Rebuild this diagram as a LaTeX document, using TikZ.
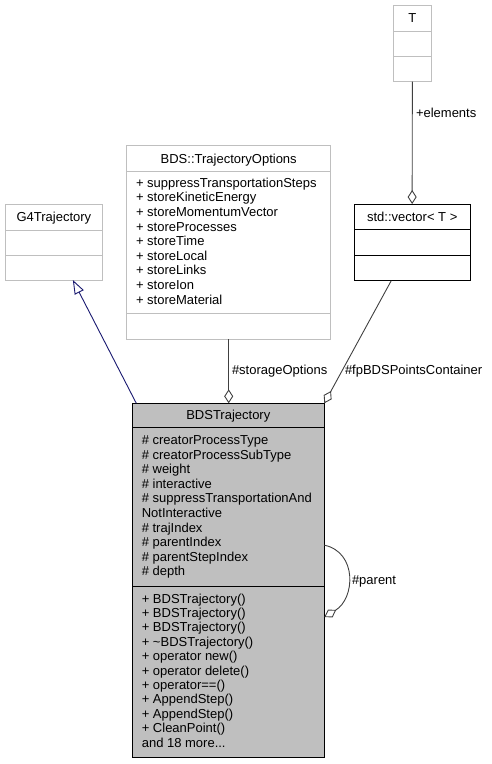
\documentclass[tikz,border=0pt]{standalone}
\usepackage{fontspec}
\setmainfont{Liberation Sans}
\usetikzlibrary{arrows.meta,calc}
\definecolor{boxgray}{RGB}{191,191,191}
\definecolor{edgegray}{RGB}{64,64,64}
\definecolor{inhblue}{RGB}{25,25,112}
\begin{document}
\begin{tikzpicture}[x=1pt,y=-1pt,
  every node/.style={inner sep=0pt,outer sep=0pt},
  umlbox/.style={draw=boxgray,line width=1pt,rectangle,anchor=north west},
  divline/.style={draw=boxgray,line width=1pt},
  txt/.style={font=\fontsize{13}{14}\selectfont,text=black},
  assoc/.style={draw=edgegray,line width=0.9pt,-{Diamond[open,length=14pt,width=9pt]}},
  inherit/.style={draw=inhblue,line width=0.9pt,-{Triangle[open,length=14pt,width=10pt]}}
]
\useasboundingbox (0,0) rectangle (491,764);

% ---- T ----
\node[umlbox,minimum width=38.7pt,minimum height=76.7pt] (T) at (393,5) {};
\draw[divline] (T.west |- 0,31.7) -- (T.east |- 0,31.7);
\draw[divline] (T.west |- 0,56.7) -- (T.east |- 0,56.7);
\node[txt,anchor=base] (Th) at (412.3,22.7) {T};

% ---- std::vector ----
\node[umlbox,draw=black,minimum width=115.7pt,minimum height=76.7pt] (vec) at (354.3,204) {};
\draw[black,line width=1pt] (vec.west |- 0,229.3) -- (vec.east |- 0,229.3);
\draw[black,line width=1pt] (vec.west |- 0,255.7) -- (vec.east |- 0,255.7);
\node[txt,anchor=base] (vech) at (412.2,221.4) {std::vector< T >};

% ---- G4Trajectory ----
\node[umlbox,minimum width=97.7pt,minimum height=76pt] (g4) at (5,204) {};
\draw[divline] (g4.west |- 0,230) -- (g4.east |- 0,230);
\draw[divline] (g4.west |- 0,255.7) -- (g4.east |- 0,255.7);
\node[txt,anchor=base] (g4h) at (53.85,221.7) {G4Trajectory};

% ---- BDS::TrajectoryOptions ----
\node[umlbox,minimum width=204pt,minimum height=193.6pt] (opts) at (126.7,145.7) {};
\draw[divline] (opts.west |- 0,171.7) -- (opts.east |- 0,171.7);
\draw[divline] (opts.west |- 0,313.3) -- (opts.east |- 0,313.3);
\node[txt,anchor=base] (optsh) at (228.7,163.4) {BDS::TrajectoryOptions};
\foreach \t [count=\i from 0] in {+ suppressTransportationSteps,+ storeKineticEnergy,+ storeMomentumVector,+ storeProcesses,+ storeTime,+ storeLocal,+ storeLinks,+ storeIon,+ storeMaterial}
  \node[txt,anchor=base west] (opta\i) at (136,{187.2+14.6*\i}) {\t};

% ---- BDSTrajectory ----
\node[umlbox,draw=black,fill=boxgray,minimum width=192pt,minimum height=353.7pt] (bds) at (132.3,403.3) {};
\draw[black,line width=1pt] (bds.west |- 0,427.7) -- (bds.east |- 0,427.7);
\draw[black,line width=1pt] (bds.west |- 0,586) -- (bds.east |- 0,586);
\node[txt,anchor=base] (bdsh) at (228.3,419.7) {BDSTrajectory};
\foreach \t [count=\i from 0] in {\# creatorProcessType,\# creatorProcessSubType,\# weight,\# interactive,\# suppressTransportationAnd,NotInteractive,\# trajIndex,\# parentIndex,\# parentStepIndex,\# depth}
  \node[txt,anchor=base west] (bdsa\i) at (141.8,{444.5+14.6*\i}) {\t};
\foreach \t [count=\i from 0] in {+ BDSTrajectory(),+ BDSTrajectory(),+ BDSTrajectory(),+ \textasciitilde BDSTrajectory(),+ operator new(),+ operator delete(),+ operator==(),+ AppendStep(),+ AppendStep(),+ CleanPoint()}
  \node[txt,anchor=base west] (bdsm\i) at (141.8,{603+14.4*\i}) {\t};
\node[txt,anchor=base west] (bdsmore) at (141.8,747) {and 18 more...};

% ---- connectors ----
\draw[assoc] (T.south) -- (vec.north);
\node[txt,anchor=base west] (lelem) at (416,117.2) {+elements};

\draw[assoc] (vec) -- (bds.north east);
\node[txt,anchor=base west] (lfp) at (345,374.5) {\#fpBDSPointsContainer};

\draw[assoc] (opts.south) -- (opts.south |- bds.north);
\node[txt,anchor=base west] (lstore) at (232,374.5) {\#storageOptions};

\draw[inherit] ([xshift=4pt]bds.north west) -- ([xshift=19pt]g4.south);

\draw[assoc] ([yshift=35pt]bds.east) .. controls +(33,7) and +(31,-19) .. ([yshift=-37pt]bds.east);
\node[txt,anchor=base west] (lpar) at (352,584.5) {\#parent};
\end{tikzpicture}
\end{document}
